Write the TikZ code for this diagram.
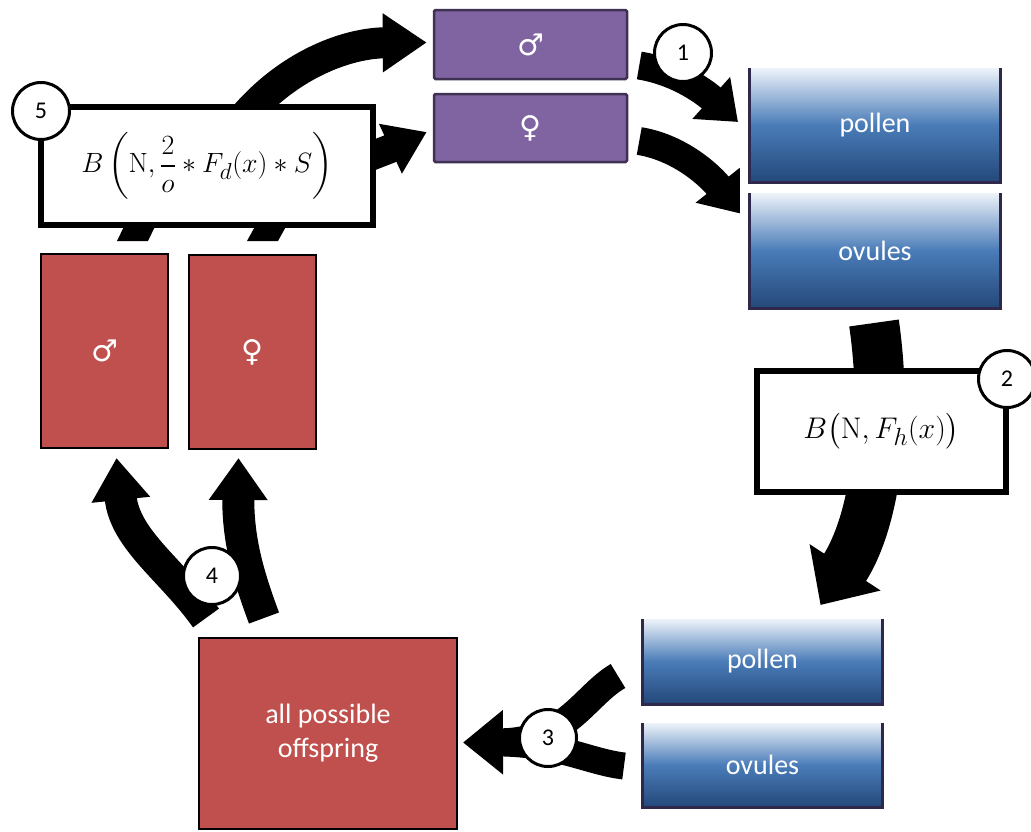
\documentclass[tikz,border=0pt]{standalone}
\usepackage{amsmath}
\usepackage{graphicx}
\usepackage[no-math]{fontspec}
\setmainfont{Carlito}
\newfontfamily\symfont{DejaVu Sans}
\usetikzlibrary{arrows.meta,calc}
\definecolor{purp}{HTML}{8064A2}
\definecolor{purpd}{HTML}{3F3151}
\definecolor{redb}{HTML}{C0504D}
\definecolor{bluetop}{HTML}{EEF3FA}
\definecolor{bluemid}{HTML}{4A7CB8}
\definecolor{bluebot}{HTML}{24487A}
\definecolor{blueedge}{HTML}{30284A}
\tikzset{
  box/.style={rectangle, inner sep=0pt, text=white, font=\fontsize{28}{34}\selectfont, align=center},
  pbox/.style={box, fill=purp, draw=purpd, line width=2.5pt, rounded corners=1.5pt},
  rbox/.style={box, fill=redb, draw=black, line width=2.5pt},
  bbox/.style={box, top color=bluetop, bottom color=bluebot, middle color=bluemid},
  bedge/.style={draw=blueedge, line width=3pt},
  fbox/.style={rectangle, draw=black, fill=white, line width=6pt, inner sep=0pt, font=\fontsize{24.88}{30}\selectfont},
  num/.style={circle, draw=black, fill=white, line width=3pt, minimum size=57pt, inner sep=0pt, font=\fontsize{24}{28}\selectfont},
  fat/.style n args={3}{line width=#1, -{Triangle[length=#2,width=#3]}},
  stub/.style={line width=#1},
  sym/.style={font=\symfont\fontsize{30}{34}\selectfont}
}
\begin{document}
\begin{tikzpicture}[x=1pt,y=-1pt]
\useasboundingbox (0,0) rectangle (1031,831);

% nodes (positions)
\path
  (530.5,44.5) node[pbox, minimum width=193pt, minimum height=69pt, sym] (pm) {♂}
  (530.5,128)  node[pbox, minimum width=193pt, minimum height=68pt, sym] (pf) {♀};

% arrows behind the boxes
\coordinate (a5) at ($(207,166)+(38,-50)$);
\draw[fat={31pt}{44pt}{56pt}] (a5) .. controls (292,62) and (350,43) .. ($(pm.west)+(-6,-2)$);
\draw[fat={29pt}{40pt}{52pt}] ($(373,166)+(-12,-6)$) .. controls (392,148) .. ($(pf.west)+(-6,4)$);
\draw[fat={28pt}{36pt}{54pt}] ($(pm.east)+(11,21)$) .. controls (680,72) and (708,95) .. ($(875,125)+(-137,-3)$);
\draw[fat={28pt}{36pt}{54pt}] ($(pf.east)+(11,13)$) .. controls (682,148) and (712,178) .. ($(875,250.5)+(-135,-37)$);
\draw[fat={50pt}{45pt}{82pt}] (874,323) .. controls (888,420) and (876,520) .. ($(762.5,619)+(58,-14)$);
\draw[fat={28pt}{40pt}{62pt}] (618,676) .. controls (585,695) and (566,742) .. ($(199,733.5)+(264,9)$);
\draw[stub=27pt] (624,766) .. controls (590,762) and (562,745) .. (505,743);
\draw[fat={32pt}{42pt}{56pt}] (206,618) .. controls (172,570) and (125,540) .. ($(104.5,448)+(12,10)$);
\draw[fat={32pt}{42pt}{56pt}] (264,618) .. controls (248,575) and (238,540) .. ($(252.5,449)+(-14,9)$);
\fill (117,241) -- (148,241) -- (162,212) -- (131,212) -- cycle;
\fill (247,241) -- (278,241) -- (294,212) -- (263,212) -- cycle;

% boxes
\node[bbox, minimum width=250pt, minimum height=114pt] (p1) at (875,125) {pollen};
\node[bbox, minimum width=250pt, minimum height=115pt] (o1) at (875,250.5) {ovules};
\node[bbox, minimum width=239pt, minimum height=85pt] (p2) at (762.5,661.5) {pollen};
\node[bbox, minimum width=239pt, minimum height=84pt] (o2) at (762.5,765) {ovules};
\foreach \b in {p1,o1,p2,o2}
  \draw[bedge] (\b.north west) -- (\b.south west) -- (\b.south east) -- (\b.north east);

\node[fbox, minimum width=332pt, minimum height=118pt] (f5) at (207,166)
  {\scalebox{1.12}{$B\left(\mathrm{N},\dfrac{2}{o}*F_d(x)*S\right)$}};
\node[fbox, minimum width=249pt, minimum height=121pt] (f2) at (881.5,431.5)
  {\scalebox{1.2}{$B\big(\mathrm{N},F_h(x)\big)$}};

\node[rbox, minimum width=127pt, minimum height=194pt, sym] (rm) at (104.5,351) {♂};
\node[rbox, minimum width=127pt, minimum height=194pt, sym] (rf) at (252.5,352) {♀};
\node[rbox, minimum width=258pt, minimum height=191pt] (off) at (328,733.5) {all possible\\offspring};

% numbered circles
\node[num] (n1) at (683,53) {1};
\node[num] (n2) at (1007,379) {2};
\node[num] (n3) at (548,738) {3};
\node[num] (n4) at (212,576) {4};
\node[num] (n5) at (41,111) {5};
\end{tikzpicture}
\end{document}
